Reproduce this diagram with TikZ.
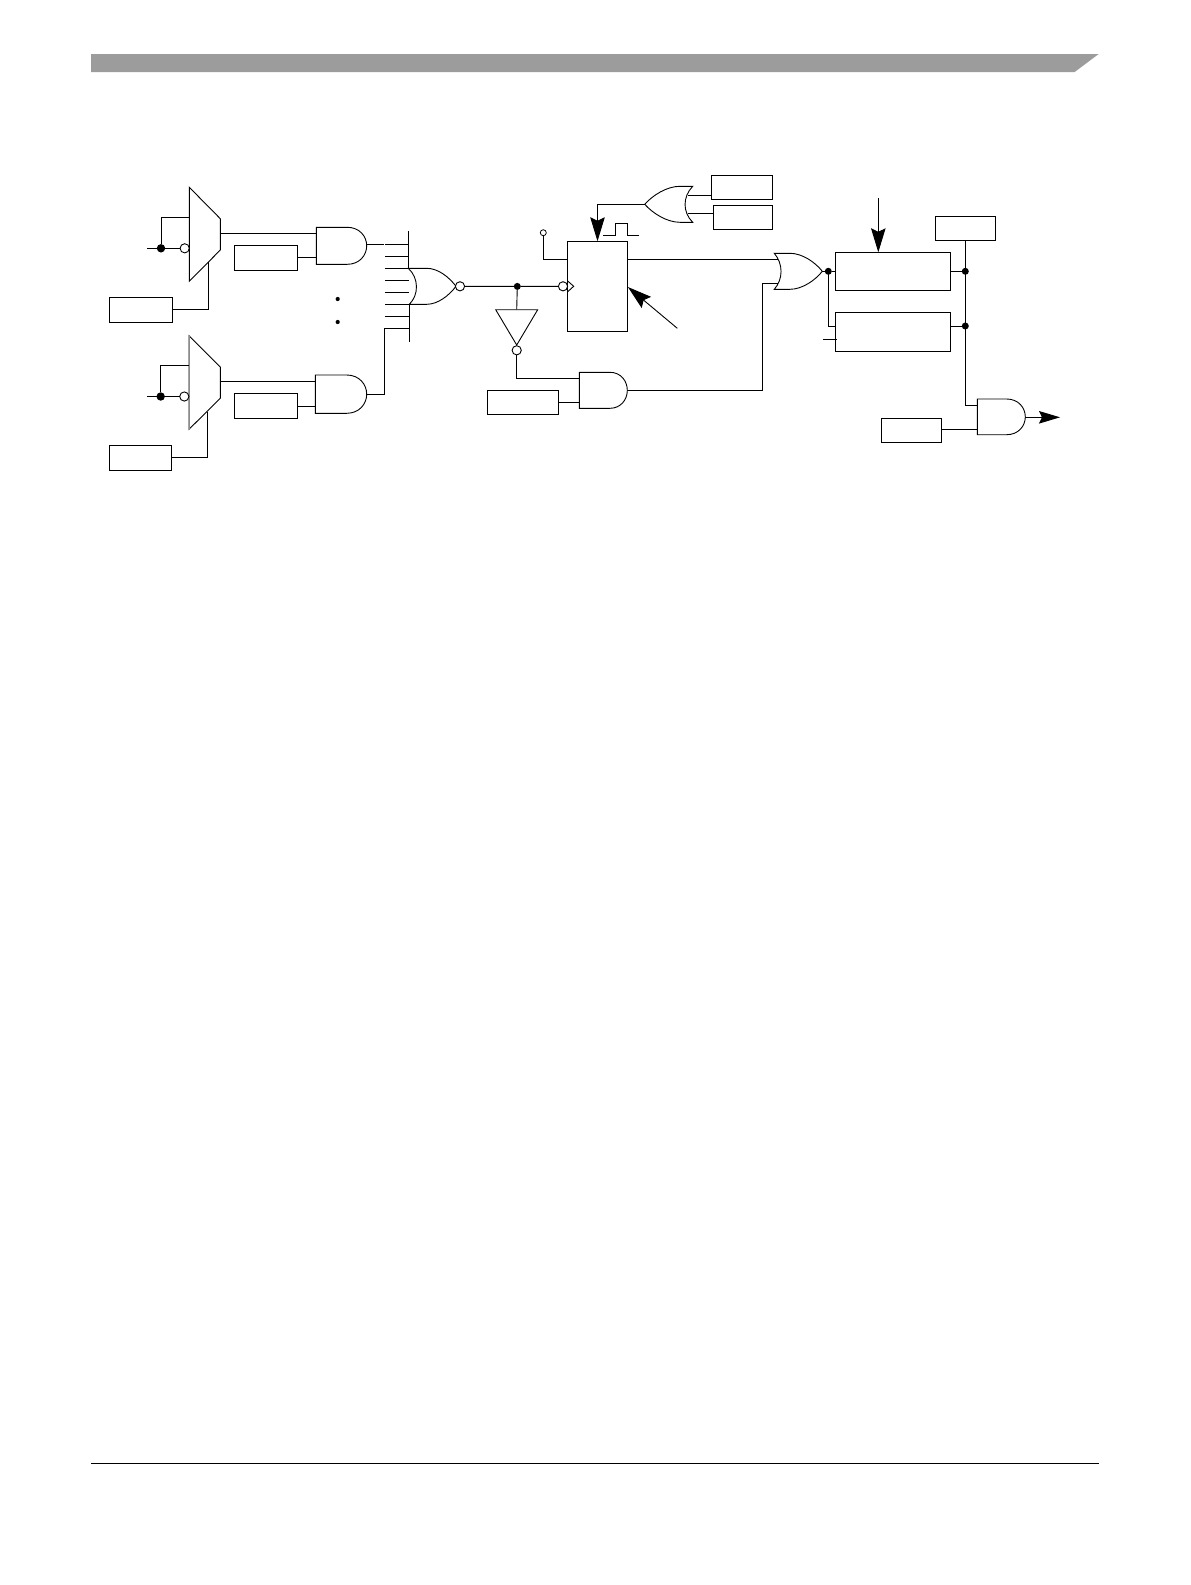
\documentclass[tikz,border=0pt]{standalone}
\usetikzlibrary{arrows.meta,calc}
\tikzset{
  wire/.style={draw=black,line width=0.9pt,line cap=butt,line join=miter},
  boxn/.style={draw=black,line width=0.9pt,fill=white,inner sep=0pt,outer sep=0pt,anchor=north west},
  gate/.style={draw=black,line width=0.9pt,fill=white,line join=miter},
  bub/.style={circle,draw=black,line width=0.9pt,fill=white,inner sep=0pt,outer sep=0pt,minimum size=9.2pt},
  smallbub/.style={circle,draw=black,line width=0.8pt,fill=white,inner sep=0pt,outer sep=0pt,minimum size=6pt},
  jdot/.style={circle,fill=black,inner sep=0pt,outer sep=0pt,minimum size=7pt},
  bigdot/.style={circle,fill=black,inner sep=0pt,outer sep=0pt,minimum size=8.4pt},
  tinydot/.style={circle,fill=black,inner sep=0pt,outer sep=0pt,minimum size=4.2pt},
  bigarrow/.style={wire,-{Stealth[length=24pt,width=14.5pt,inset=3.5pt]}},
  outarrow/.style={wire,-{Stealth[length=21pt,width=12.5pt,inset=3pt]}},
}
% name, x, top, width, height
\newcommand{\rbox}[5]{\node[boxn,minimum width=#4pt,minimum height=#5pt] (#1) at (#2,#3) {};}
% x, top, bottom, flat x, tip x
\newcommand{\andg}[5]{\path[gate] (#1,#2) -- (#4,#2) .. controls ({#4+0.62*(#5-#4)},#2) and (#5,{#2+0.24*(#3-#2)}) .. (#5,{0.5*(#2+#3)}) .. controls (#5,{#3-0.24*(#3-#2)}) and ({#4+0.62*(#5-#4)},#3) .. (#4,#3) -- (#1,#3) -- cycle;}
\begin{document}
\begin{tikzpicture}[x=1pt,y=-1pt]
\useasboundingbox (0,0) rectangle (1191,1585);
\fill[white] (0,0) rectangle (1191,1585);
% page furniture
\fill[black!39] (91,54) -- (1098.7,54) -- (1074.7,72) -- (91,72) -- cycle;
\draw[line width=1pt] (91,1463.5) -- (1099,1463.5);

% boxes
\rbox{selA}{109.3}{297.3}{63.4}{25}
\rbox{enA}{234.3}{245.3}{63}{25}
\rbox{selB}{109.3}{445.3}{62.4}{25}
\rbox{enB}{234.3}{393.3}{63}{25}
\rbox{enC}{487.3}{390.3}{71}{24}
\rbox{ff}{567.3}{241.3}{60.4}{90}
\rbox{srcA}{711.3}{175.3}{61}{24}
\rbox{srcB}{713.3}{205.3}{59}{24}
\rbox{cntA}{835.3}{252.3}{115}{38}
\rbox{cntB}{835.3}{312.3}{115}{39}
\rbox{ctl}{935.3}{216.3}{60}{24}
\rbox{enD}{881.3}{418.3}{60.4}{24}

% pins and free ends
\coordinate (m1o) at (220.3,233.3);
\coordinate (a1i1) at (316.3,233.3);
\coordinate (a1i2) at (316.3,257.3);
\coordinate (m2o) at (220.3,381.3);
\coordinate (a2i1) at (315.3,381.3);
\coordinate (a2i2) at (315.3,406.3);
\coordinate (a2o) at (366.7,394.3);
\coordinate (a1o) at (366.7,244.3);
\coordinate (bend2) at (384.3,328.3);
\coordinate (a3i1) at (579.3,378.3);
\coordinate (a3i2) at (579.3,402.3);
\coordinate (a3o) at (627.3,390.3);
\coordinate (o4i1) at (777.5,259.3);
\coordinate (o4i2) at (777.5,283.3);
\coordinate (o3t) at (644.7,204.3);
\coordinate (o3i1) at (688,195);
\coordinate (o3i2) at (688,213.3);
\coordinate (o4o) at (822.3,271.3);
\coordinate (a5i1) at (977.3,405.3);
\coordinate (a5i2) at (977.3,429.3);
\coordinate (a5o) at (1025.3,417.3);
\coordinate (endo) at (1060,417.3);
\coordinate (cntT) at (878.3,198);
\coordinate (ffAt) at (677.3,328.3);
\coordinate (stub) at (823,339.3);

% wires (under the gates)
\draw[wire] (m1o) -- (a1i1);
\draw[wire] (a1i2 -| enA.east) -- (a1i2);
\draw[wire] (m2o) -- (a2i1);
\draw[wire] (a2i2 -| enB.east) -- (a2i2);
\draw[wire] (a3i2 -| enC.east) -- (a3i2);
\draw[wire] (o3i1) -- (o3i1 -| srcA.west);
\draw[wire] (o3i2) -- (o3i2 -| srcB.west);
\draw[wire] (o4i1 -| ff.east) -- (o4i1);
\draw[wire] (a3o) -| (762.3,283.3) -- (o4i2);
\draw[wire] (a5i2 -| enD.east) -- (a5i2);
\draw[wire] (ctl.south -| 965.3,0) -- (965.3,405.3) -- (a5i1);

% mux A
\draw[gate] (189.3,187.3) -- (220.3,218.7) -- (220.3,250) -- (189.3,281.3) -- cycle;
\node[bigdot] (jA) at (161,248.3) {};
\node[bub] (bA) at (184.7,248.3) {};
\coordinate (inA) at (147,248.3);
\draw[wire] (inA) -- (jA) -- (bA);
\draw[wire] (jA) |- (189.3,217.3);
\draw[wire] (208.7,262) |- (selA.east);
% mux B
\draw[gate] (189,335.7) -- (220.3,367) -- (220.3,398.3) -- (189,429.3) -- cycle;
\draw[line width=0.9pt,black!45] (189,335.7) -- (189,429.3);
\node[bigdot] (jB) at (160.7,396.5) {};
\node[bub] (bB) at (184.3,396.5) {};
\coordinate (inB) at (147,396.5);
\draw[wire] (inB) -- (jB) -- (bB);
\draw[wire] (jB) |- (189,365.3);
\draw[wire] (207.3,411.7) |- (selB.east);

% and gates
\andg{316.3}{227.3}{264.3}{347.3}{366.7}
\andg{315.3}{375}{413.3}{346.7}{366.7}
\andg{579.3}{372.3}{408.3}{610}{627.3}
\andg{977.3}{399}{434.7}{1006.7}{1025.3}

% nor stubs and bus
\draw[wire] (a1o) -- (384.3,244.3);
\foreach \y in {244.3,256.3,268.3,280.3,292.3,304.3,316.3}{\draw[wire] (385,\y) -- (409,\y);}
\draw[wire] (a2o) -| (bend2) -- (409.3,328.3);
\draw[wire] (408.3,231) -- (408.3,268.3);
\draw[wire] (409.3,304.3) -- (409.3,341.7);
\node[tinydot] (d1) at (337.7,299) {};
\node[tinydot] (d2) at (337.7,322) {};

% nor gate
\path[gate] (408.3,268.3) -- (426.7,268.3) .. controls (438,268.3) and (449,277) .. (456,286.3) .. controls (449,295.5) and (438,304.3) .. (426.7,304.3) -- (409.3,304.3) .. controls (419,295) and (419,278) .. (408.3,268.3) -- cycle;
\node[bub] (norb) at (460,286.3) {};
\node[jdot] (jN) at (517.3,286.4) {};
\node[bub] (ckb) at (563,286.3) {};
\draw[wire] (norb) -- (jN) -- (ckb);
\draw[gate,fill=none] (567.7,281) -- (573.7,286.3) -- (567.7,291.7);

% inverter
\coordinate (invtop) at (516.7,309.7);
\draw[wire] (jN) -- (invtop);
\draw[gate] (495.7,309.7) -- (537.7,309.7) -- (516.7,345) -- cycle;
\node[bub] (invb) at (516.7,350.3) {};
\draw[wire] (invb) |- (a3i1);

% preset
\node[smallbub] (pre) at (543.3,232.7) {};
\draw[wire] (pre) |- (567.3,259.3);

% or to ff clear
\path[gate] (692.7,186.3) -- (680,186.3) .. controls (667,186.3) and (653,195) .. (644.7,204.3) .. controls (653,213.5) and (667,222.3) .. (680,222.3) -- (692.7,222.3) .. controls (682.5,212) and (682.5,197) .. (692.7,186.3) -- cycle;
\draw[bigarrow] (o3t) -| (ff.north);
\draw[wire] (603.3,235.3) -- (615.3,235.3) -- (615.3,223.3) -- (627.3,223.3) -- (627.3,235.3) -- (638.7,235.3);
\draw[bigarrow] (ffAt) -- (627.9,287);

% output or
\path[gate] (774.3,253.3) -- (790,253.3) .. controls (802,253.3) and (815,262) .. (822.3,271.3) .. controls (815,280.5) and (802,289.3) .. (790,289.3) -- (774.3,289.3) .. controls (783.3,279) and (783.3,264) .. (774.3,253.3) -- cycle;
\node[jdot] (jO) at (828.3,271.3) {};
\draw[wire] (o4o) -- (jO) -- (jO -| cntA.west);
\draw[wire] (828.7,271.3) |- (835.3,326.3);
\draw[wire] (stub) -- (836.7,339.3);
\draw[bigarrow] (cntT) -- (cntT |- cntA.north);

% right bus
\node[jdot] (jC) at (965.3,271.3) {};
\node[jdot] (jD) at (965.3,326) {};
\draw[wire] (jC -| cntA.east) -- (jC);
\draw[wire] (jD -| cntB.east) -- (jD);
\draw[outarrow] (a5o) -- (endo);
\end{tikzpicture}
\end{document}
